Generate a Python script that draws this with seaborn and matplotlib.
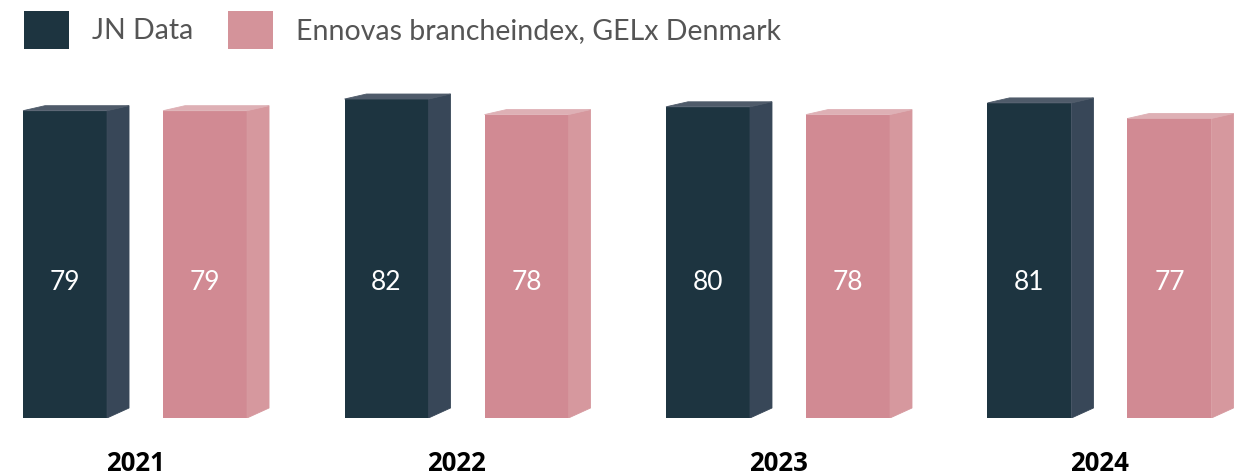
import numpy as np
import pandas as pd
import matplotlib.pyplot as plt
import seaborn as sns
from matplotlib.patches import Polygon, Rectangle

# data
years = ['2021', '2022', '2023', '2024']
series = ['JN Data', 'Ennovas brancheindex, GELx Denmark']
jn_values = [79, 82, 80, 81]
ennova_values = [79, 78, 78, 77]

front_colors = ['#1d3440', '#d18a93']
side_colors = ['#384758', '#d6989e']
top_colors = ['#4f5b6a', '#deb0b5']
legend_colors = ['#1d3440', '#d4939a']

df = pd.DataFrame({
    'year': years * 2,
    'series': [series[0]] * len(years) + [series[1]] * len(years),
    'value': jn_values + ennova_values,
})

sns.set_theme(style='white')
plt.rcParams['font.family'] = ['Lato', 'DejaVu Sans']

W, H = 1239, 475
fig = plt.figure(figsize=(W / 100, H / 100), dpi=100)
ax = fig.add_axes([0, 57 / H, 1, 389 / H])

sns.barplot(data=df, x='year', y='value', hue='series', palette=front_colors,
            width=0.871, gap=0.40, dodge=True, legend=False, saturation=1,
            linewidth=0, ax=ax)
ax.set_xlim(-0.42, 3.434)
ax.set_ylim(0, 100)

# pixel -> data scale for the 3D faces
px_x = (ax.get_xlim()[1] - ax.get_xlim()[0]) / W
px_y = (ax.get_ylim()[1] - ax.get_ylim()[0]) / 389
dx = 22 * px_x
dy_top = 5 * px_y
dy_bot = 10 * px_y

for i, cont in enumerate(ax.containers):
    for bar in cont:
        x0 = bar.get_x()
        x1 = x0 + bar.get_width()
        h = bar.get_height()
        side = Polygon([(x1, 0), (x1 + dx, dy_bot), (x1 + dx, h + dy_top), (x1, h)],
                       closed=True, facecolor=side_colors[i], edgecolor=side_colors[i],
                       linewidth=0.6)
        top = Polygon([(x0, h), (x0 + dx, h + dy_top), (x1 + dx, h + dy_top), (x1, h)],
                      closed=True, facecolor=top_colors[i], edgecolor=top_colors[i],
                      linewidth=0.6)
        ax.add_patch(side)
        ax.add_patch(top)
        ax.text(x0 + bar.get_width() / 2, 34.8, f'{int(round(h))}', color='white',
                fontsize=19, fontweight='normal', ha='center', va='center')

ax.set_xlabel('')
ax.set_ylabel('')
ax.set_yticks([])
ax.tick_params(axis='x', length=0, pad=23)
for lbl in ax.get_xticklabels():
    lbl.set_fontfamily(['Open Sans', 'DejaVu Sans'])
    lbl.set_fontweight('bold')
    lbl.set_fontsize(18.5)
    lbl.set_color('black')
sns.despine(ax=ax, left=True, bottom=True)

# legend
leg_x = [24, 228]
text_x = [92, 296]
for i, name in enumerate(series):
    fig.add_artist(Rectangle((leg_x[i] / W, 1 - 49 / H), 45 / W, 38 / H,
                             transform=fig.transFigure, facecolor=legend_colors[i],
                             edgecolor='none'))
    fig.text(text_x[i] / W, 1 - 31 / H, name, fontsize=20.5, fontweight='normal',
             color='#555555', ha='left', va='center')

fig.savefig('out.png', dpi=100)
